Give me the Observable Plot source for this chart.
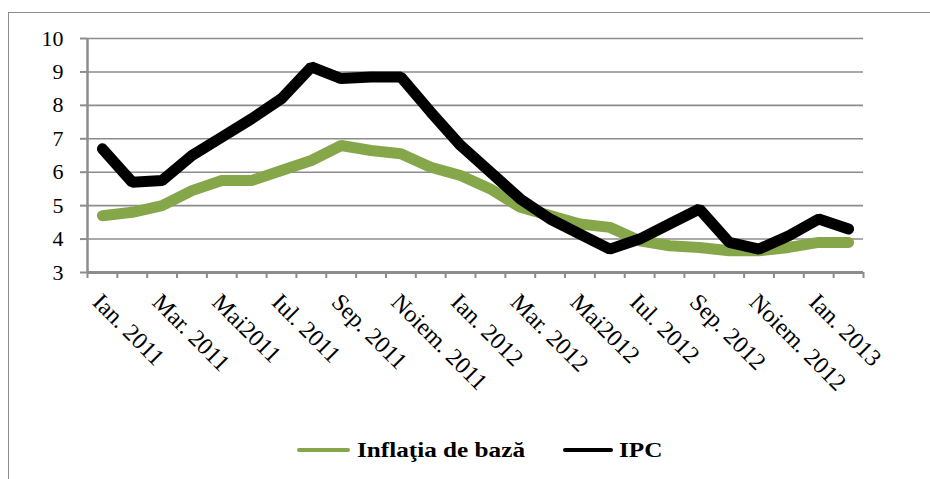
<!DOCTYPE html>
<html><head><meta charset="utf-8">
<script src="https://cdn.jsdelivr.net/npm/d3@7"></script>
<script src="https://cdn.jsdelivr.net/npm/@observablehq/plot@0.6"></script>
<style>
html,body{margin:0;padding:0;background:#fff;width:930px;height:479px;overflow:hidden;}
#wrap{position:relative;width:930px;height:479px;}
#frame{position:absolute;left:8px;top:12px;width:940px;height:490px;border:1.5px solid #8c8c8c;box-sizing:border-box;}
#chart{position:absolute;left:0;top:0;}
#legend{position:absolute;left:0;top:0;width:930px;height:479px;font-family:"Liberation Serif",serif;}
.sw{position:absolute;height:4px;border-radius:2px;}
.lt{position:absolute;font-weight:bold;font-size:21px;line-height:21px;transform:scaleX(1.2);transform-origin:left center;white-space:nowrap;color:#000;}
</style></head>
<body>
<div id="wrap">
  <div id="frame"></div>
  <div id="chart"></div>
  <div id="legend">
    <div class="sw" style="left:297px;top:448px;width:53px;background:#86a64a;"></div>
    <div class="lt" style="left:357px;top:440px;">Inflaţia de bază</div>
    <div class="sw" style="left:563px;top:448px;width:50px;background:#000;"></div>
    <div class="lt" style="left:619px;top:440px;">IPC</div>
  </div>
</div>
<script>
const months = [
  "Ian. 2011","Feb. 2011","Mar. 2011","Apr. 2011","Mai2011","Iun. 2011","Iul. 2011","Aug. 2011",
  "Sep. 2011","Oct. 2011","Noiem. 2011","Dec. 2011",
  "Ian. 2012","Feb. 2012","Mar. 2012","Apr. 2012","Mai2012","Iun. 2012","Iul. 2012","Aug. 2012",
  "Sep. 2012","Oct. 2012","Noiem. 2012","Dec. 2012",
  "Ian. 2013","Feb. 2013"
];
const tickLabels = ["Ian. 2011","Mar. 2011","Mai2011","Iul. 2011","Sep. 2011","Noiem. 2011",
  "Ian. 2012","Mar. 2012","Mai2012","Iul. 2012","Sep. 2012","Noiem. 2012","Ian. 2013"];
const ipc = [6.7, 5.7, 5.75, 6.5, 7.05, 7.6, 8.2, 9.15, 8.8, 8.85, 8.85, 7.8,
  6.8, 6.0, 5.2, 4.6, 4.15, 3.7, 4.0, 4.45, 4.9, 3.9, 3.7, 4.1, 4.6, 4.3];
const core = [4.7, 4.8, 5.0, 5.45, 5.75, 5.75, 6.05, 6.35, 6.8, 6.65, 6.55, 6.15,
  5.9, 5.5, 4.95, 4.7, 4.45, 4.35, 3.95, 3.8, 3.75, 3.65, 3.65, 3.75, 3.9, 3.9];
const yTicks = [3,4,5,6,7,8,9,10];

const coreRows = months.map((m,i)=>({i, m, v: core[i]}));
const ipcRows = months.map((m,i)=>({i, m, v: ipc[i]}));
const tickIdx = tickLabels.map(t => months.indexOf(t));
const boundaries = d3.range(months.length + 1).map(k => k - 0.5);

const chart = Plot.plot({
  width: 930, height: 420,
  marginLeft: 87, marginRight: 67, marginTop: 38, marginBottom: 148,
  style: {fontFamily: "Liberation Serif, serif", fontSize: "22px", color: "#000", background: "transparent", overflow: "visible"},
  x: {type: "linear", domain: [-0.5, months.length - 0.5]},
  y: {domain: [3, 10]},
  marks: [
    Plot.ruleY(yTicks.filter(v => v > 3), {stroke: "#8c8c8c", strokeWidth: 1.6}),
    Plot.axisY(yTicks, {tickSize: 7, tickPadding: 17, stroke: "#8c8c8c", strokeWidth: 2, fill: "#000", fontSize: 22, label: null}),
    Plot.axisX(boundaries, {tickSize: 6, tickFormat: () => "", stroke: "#8c8c8c", strokeWidth: 2, label: null}),
    Plot.ruleX([-0.5], {y1: 3, y2: 10, stroke: "#8c8c8c", strokeWidth: 2.5}),
    Plot.ruleY([3], {stroke: "#8c8c8c", strokeWidth: 3}),
    Plot.line(coreRows, {x: "i", y: "v", stroke: "#86a64a", strokeWidth: 11, strokeLinecap: "round", strokeLinejoin: "miter"}),
    Plot.line(ipcRows, {x: "i", y: "v", stroke: "#000", strokeWidth: 11, strokeLinecap: "round", strokeLinejoin: "miter"}),
    Plot.text(tickLabels, {x: (d, k) => tickIdx[k], text: d => d, frameAnchor: "bottom", rotate: 45,
      textAnchor: "start", lineAnchor: "top", dy: 19, dx: 1, fontSize: 24, fill: "#000"})
  ]
});
document.getElementById("chart").appendChild(chart);
</script>
</body></html>
